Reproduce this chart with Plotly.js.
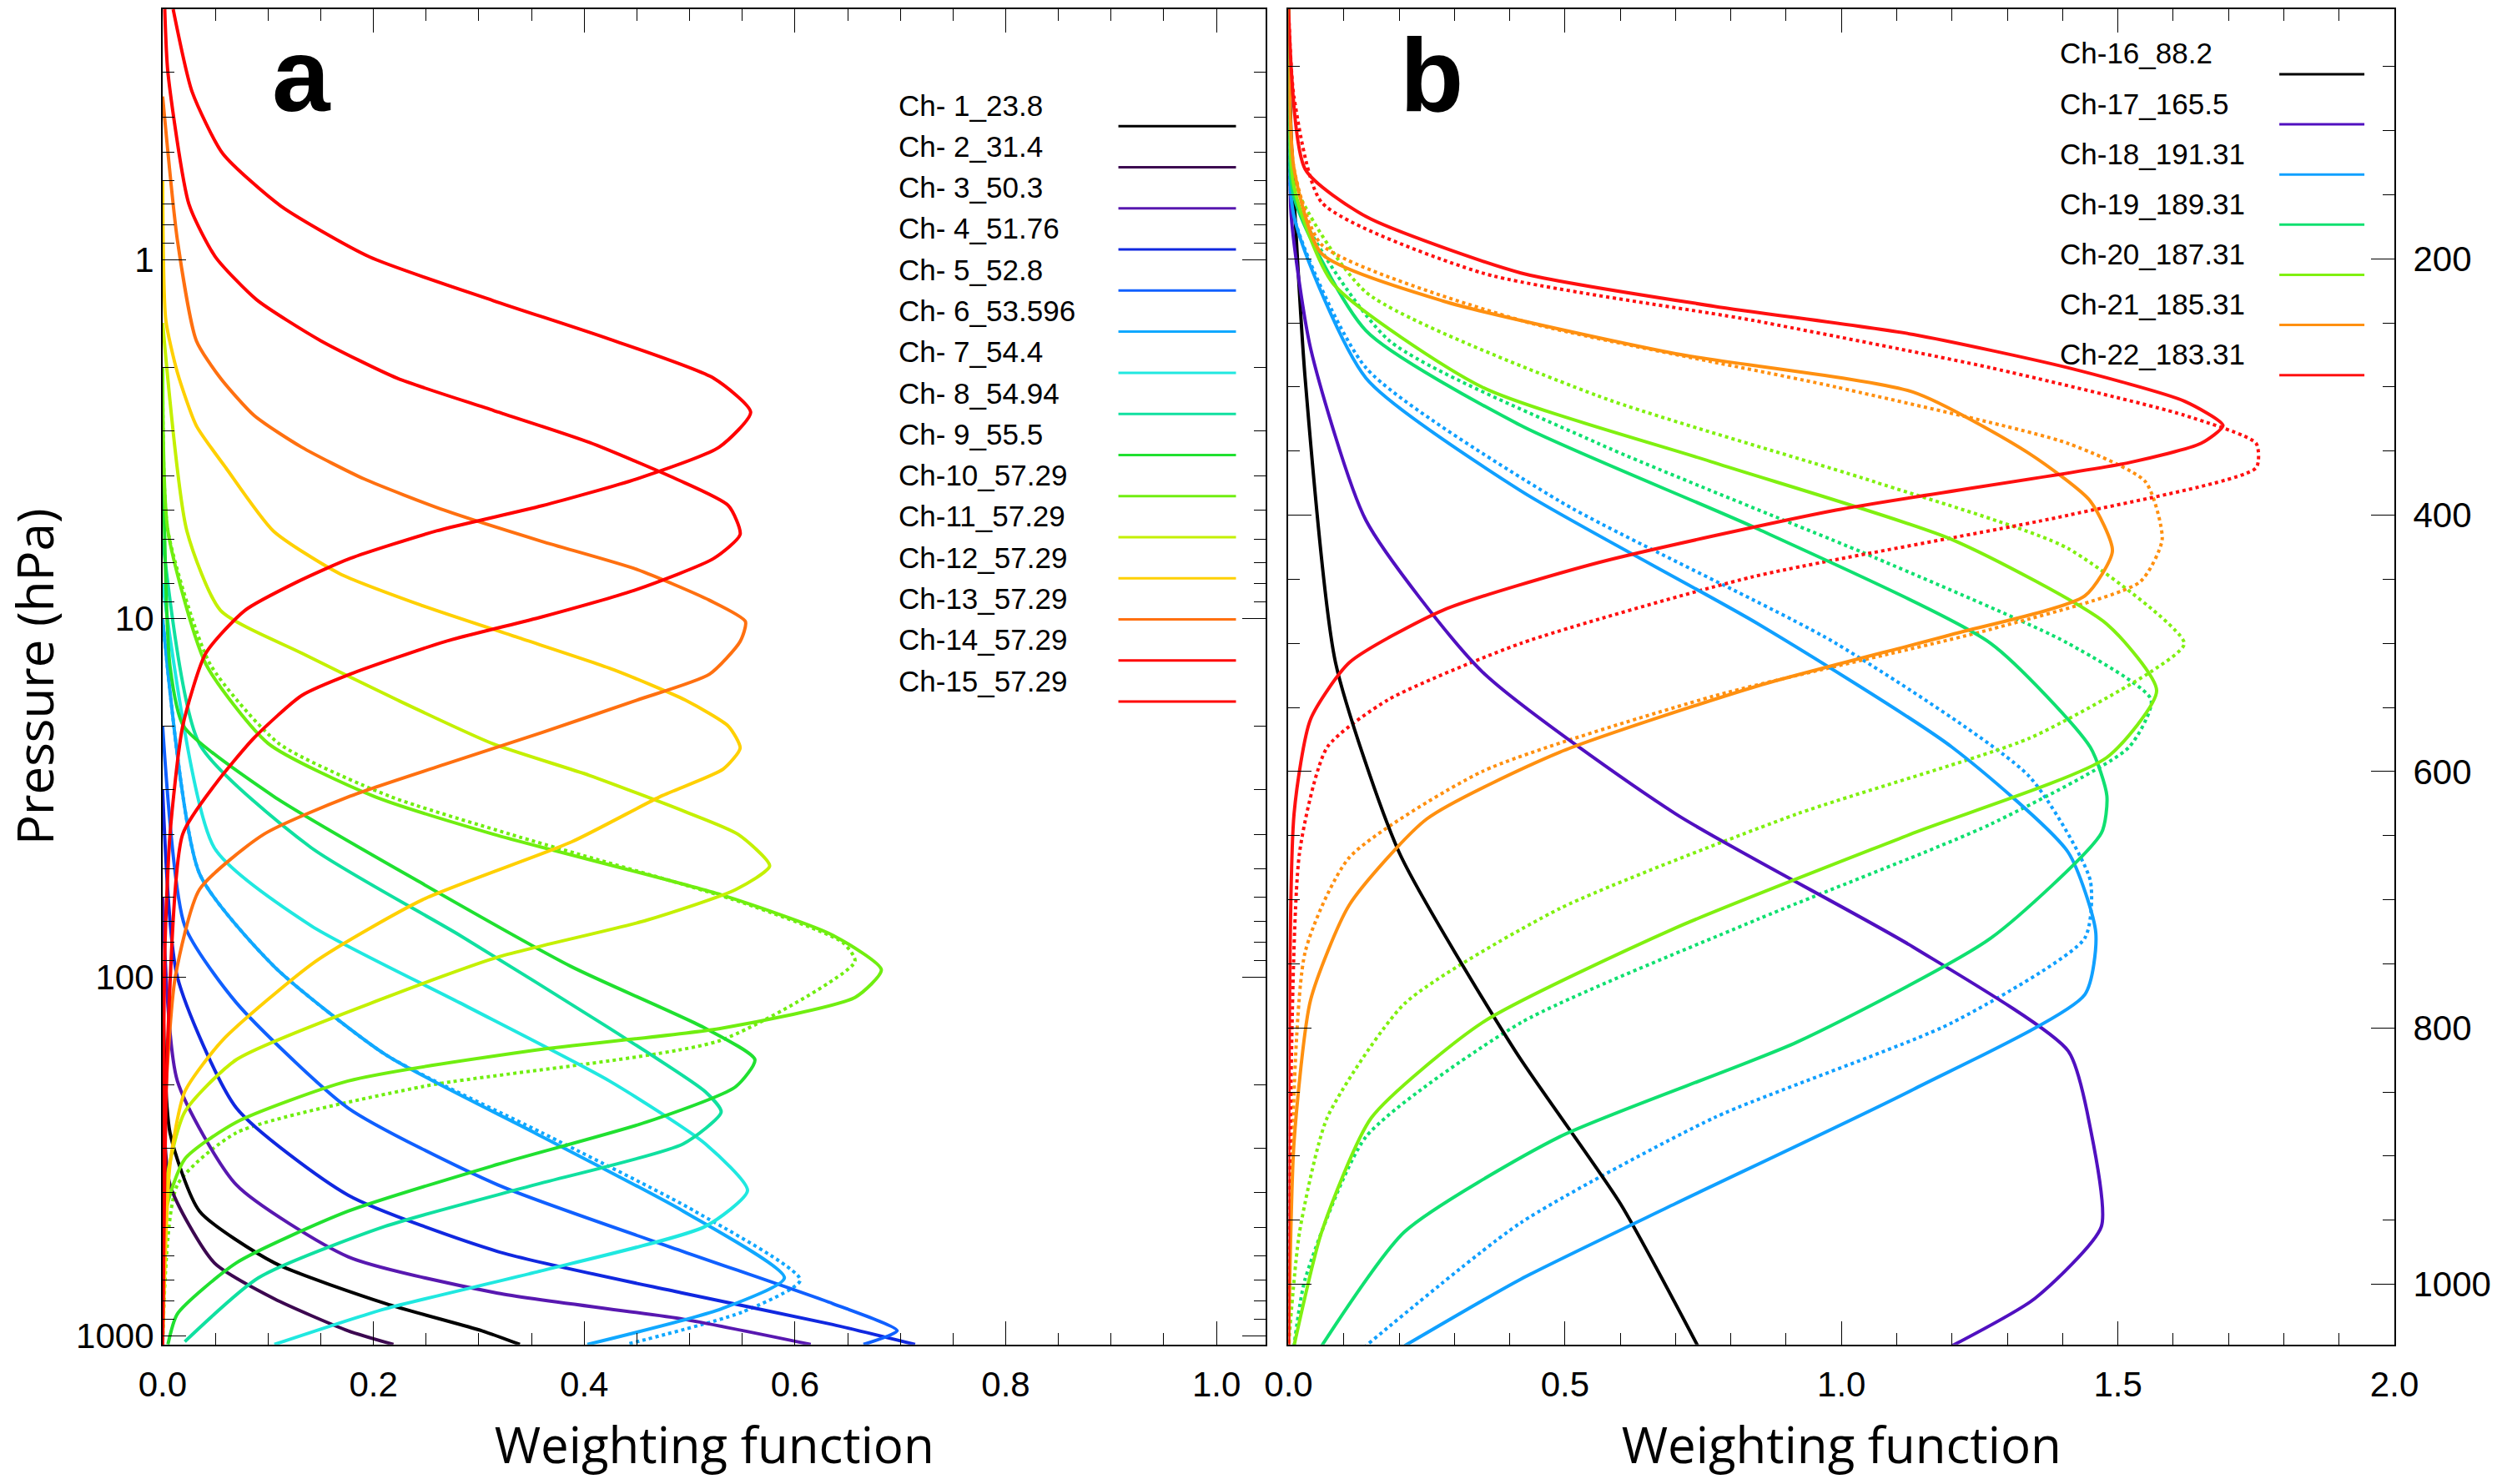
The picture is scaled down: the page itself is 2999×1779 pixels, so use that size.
<!DOCTYPE html>
<html>
<head>
<meta charset="utf-8">
<script src="https://cdn.plot.ly/plotly-3.0.1.min.js"></script>
<style>body{margin:0;background:#fff}#plot{width:2999px;height:1779px}</style>
</head>
<body>
<div id="plot"></div>
<script>
// ---- panel a : temperature channels (log pressure) ----
var namesA = ['Ch- 1_23.8','Ch- 2_31.4','Ch- 3_50.3','Ch- 4_51.76','Ch- 5_52.8','Ch- 6_53.596','Ch- 7_54.4',
  'Ch- 8_54.94','Ch- 9_55.5','Ch-10_57.29','Ch-11_57.29','Ch-12_57.29','Ch-13_57.29','Ch-14_57.29','Ch-15_57.29']
var colorsA = ['#000000','#3c0850','#5818b0','#1028e0','#1060ff','#10a8ff','#20e8e0',
  '#10e0a0','#20e030','#70ee10','#c4f000','#ffd000','#ff7010','#ff0000','#ff0000']

var w1 = [0, .007, .035, .106, .212, .303, .339]
var p1 = [100, 272, 450, 627, 815, 970, 1059]
var w2 = [0, .007, .049, .106, .176, .219]
var p2 = [150, 380, 627, 790, 970, 1059]
var w3 = [0, .014, .07, .176, .318, .494, .615]
var p3 = [60, 195, 380, 603, 762, 900, 1059]
var w4 = [0, .014, .07, .176, .318, .494, .636, .714]
var p4 = [30, 100, 232, 406, 583, 762, 932, 1059]
var w5 = [0, .021, .07, .176, .318, .494, .636, .697, .665]
var p5 = [20, 72, 118, 232, 380, 583, 815, 970, 1059]
var w6 = [0, .035, .106, .212, .353, .494, .59, .53, .403]
var p6 = [10, 51.5, 93.6, 165, 272, 450, 690, 843, 1059]
var w6d = [0, .035, .106, .212, .36, .505, .605, .55, .44]
var p6d = [10, 51.5, 93.6, 165, 272, 450, 700, 860, 1059]
var w7 = [0, .049, .141, .282, .424, .515, .555, .515, .353, .211, .106]
var p7 = [8, 43.6, 72, 118, 195, 292, 394, 496, 667, 843, 1059]
var w8 = [0, .035, .141, .282, .424, .515, .53, .494, .353, .211, .091, .021]
var p8 = [6, 22.4, 43.6, 76.5, 139, 209, 238, 292, 380, 496, 690, 1040]
var w9 = [0, .007, .02, .105, .247, .388, .515, .562, .544, .459, .318, .176, .07, .014, .005]
var p9 = [3, 13.6, 20, 31.3, 55, 93.6, 139, 170, 202, 254, 333, 450, 627, 870, 1059]
var w10 = [0, .005, .041, .1, .2, .314, .53, .636, .682, .657, .53, .353, .176, .07, .021, .003, 0]
var p10 = [2, 5.7, 13.4, 22.3, 31.3, 40, 59, 76.5, 95.5, 114, 139, 160, 195, 254, 322, 450, 1059]
var w10d = [0, .005, .045, .11, .215, .33, .55, .645, .657, .53, .247, .07, .014, 0]
var p10d = [2, 5.7, 13.4, 22.3, 31.3, 40, 62, 80, 90.5, 150, 202, 272, 380, 1059]
var w11 = [0, .023, .055, .132, .223, .314, .405, .496, .546, .576, .544, .459, .318, .212, .07, .021, .003, 0]
var p11 = [1.5, 5.7, 9.5, 12.5, 16.9, 22.4, 27.4, 34.6, 40, 49, 57, 69.5, 88, 114, 170, 238, 380, 1059]
var w12 = [0, .003, .014, .032, .06, .105, .168, .246, .337, .428, .496, .537, .548, .532, .473, .388, .247, .145, .057, .021, .007, 0]
var p12 = [0.6, 1.47, 2.06, 2.9, 3.8, 5.7, 7.5, 9.2, 11.3, 13.9, 16.9, 20, 23, 26.3, 31.3, 42, 60.8, 90.5, 150, 209, 333, 1059]
var w13 = [0, .014, .032, .055, .087, .132, .191, .268, .36, .45, .519, .553, .548, .519, .45, .36, .268, .178, .096, .035, .012, .002, 0]
var p13 = [0.35, .88, 1.68, 2.14, 2.72, 3.33, 4.08, 5.0, 6.1, 7.3, 8.9, 10.2, 11.6, 14.3, 16.9, 20.8, 25.5, 31.3, 40, 57, 100, 240, 1059]
var w14 = [.002, .005, .025, .05, .089, .15, .223, .314, .405, .487, .537, .548, .523, .45, .36, .268, .178, .132, .087, .05, .019, .005, 0]
var p14 = [0.2, .3, .7, .98, 1.29, 1.68, 2.14, 2.63, 3.23, 4.08, 4.85, 5.83, 6.8, 8.3, 9.9, 11.6, 14.3, 16.4, 21.5, 29, 40, 145, 1059]
var w15 = [.01, .028, .057, .112, .196, .314, .423, .523, .558, .528, .45, .36, .26, .178, .128, .078, .041, .019, .007, .002, 0]
var p15 = [0.2, .34, .505, .707, .98, 1.3, 1.66, 2.14, 2.66, 3.33, 4.08, 4.85, 5.7, 6.8, 7.9, 9.5, 12.5, 20, 40, 87, 1059]

var wA = [w1, w2, w3, w4, w5, w6, w7, w8, w9, w10, w11, w12, w13, w14, w15]
var pA = [p1, p2, p3, p4, p5, p6, p7, p8, p9, p10, p11, p12, p13, p14, p15]
// dotted (second model) curves: [channel index, w, p]
var dotsA = [[5, w6d, p6d], [9, w10d, p10d]]

// ---- panel b : humidity channels (linear pressure) ----
var namesB = ['Ch-16_88.2','Ch-17_165.5','Ch-18_191.31','Ch-19_189.31','Ch-20_187.31','Ch-21_185.31','Ch-22_183.31']
var colorsB = ['#000000','#5010c0','#10a0ff','#10e070','#80f010','#ff9010','#ff1010']

var w16 = [0, .005, .03, .085, .2, .41, .6, .74]
var p16 = [5, 107, 293, 515, 663, 818, 937, 1048]
var w17 = [0, .005, .04, .14, .35, .7, 1.13, 1.41, 1.45, 1.47, 1.35, 1.2]
var p17 = [5, 167, 270, 404, 522, 633, 737, 818, 878, 955, 1011, 1048]
var w18 = [0, .01, .14, .42, .85, 1.2, 1.41, 1.46, 1.44, 1.13, .7, .42, .21]
var p18 = [5, 167, 293, 381, 485, 581, 663, 726, 774, 848, 937, 996, 1048]
var w18d = [0, .01, .14, .49, .99, 1.34, 1.45, 1.44, 1.2, .77, .42, .14]
var p18d = [5, 167, 285, 389, 500, 604, 685, 730, 796, 870, 952, 1048]
var w19 = [0, .01, .14, .42, .85, 1.27, 1.45, 1.48, 1.47, 1.27, .92, .49, .21, .06]
var p19 = [5, 152, 256, 330, 411, 500, 581, 619, 648, 730, 811, 885, 959, 1048]
var w19d = [0, .01, .18, .56, 1.06, 1.41, 1.56, 1.52, 1.27, .85, .42, .14, .03, .01]
var p19d = [5, 152, 263, 344, 433, 500, 544, 581, 641, 715, 796, 885, 996, 1048]
var w20 = [0, .01, .08, .35, .77, 1.2, 1.48, 1.57, 1.48, 1.13, .7, .35, .15, .06, .01]
var p20 = [5, 144, 219, 300, 359, 419, 485, 537, 589, 648, 722, 796, 870, 959, 1048]
var w20d = [0, .01, .14, .56, 1.06, 1.41, 1.62, 1.56, 1.34, .92, .49, .21, .07, .02, 0]
var p20d = [5, 140, 226, 307, 374, 426, 500, 522, 574, 633, 707, 781, 870, 959, 1048]
var w21 = [0, .01, .06, .28, .7, 1.13, 1.34, 1.45, 1.49, 1.44, 1.2, .85, .49, .25, .11, .04, .01, 0]
var p21 = [5, 130, 196, 233, 274, 304, 352, 389, 428, 463, 493, 533, 585, 637, 704, 778, 889, 1048]
var w21d = [0, .01, .06, .42, .99, 1.41, 1.55, 1.58, 1.54, 1.27, .77, .35, .11, .03, 0]
var p21d = [5, 130, 189, 248, 300, 344, 374, 419, 452, 489, 541, 600, 667, 741, 1048]
var w22 = [0, .03, .14, .42, .77, 1.13, 1.41, 1.62, 1.69, 1.65, 1.52, .99, .56, .28, .11, .04, .01, 0]
var p22 = [5, 130, 167, 211, 237, 259, 285, 311, 330, 344, 359, 396, 437, 474, 515, 559, 633, 1048]
var w22d = [0, .01, .06, .35, .84, 1.27, 1.62, 1.75, 1.75, 1.41, .84, .42, .18, .07, .02, 0]
var p22d = [5, 74, 156, 211, 248, 285, 322, 344, 363, 400, 448, 500, 544, 581, 663, 1048]

var wB = [w16, w17, w18, w19, w20, w21, w22]
var pB = [p16, p17, p18, p19, p20, p21, p22]
var dotsB = [[2, w18d, p18d], [3, w19d, p19d], [4, w20d, p20d], [5, w21d, p21d], [6, w22d, p22d]]

var traces = []
function addLine(x, y, color, dash, xa, ya) {
  traces.push({x: x, y: y, mode: 'lines', xaxis: xa, yaxis: ya, showlegend: false, hoverinfo: 'skip',
    line: {color: color, width: 4, dash: dash, shape: 'spline', smoothing: 0.6}})
}
dotsA.forEach(d => addLine(d[1], d[2], colorsA[d[0]], 'dot', 'x', 'y'))
wA.forEach((w, i) => addLine(w, pA[i], colorsA[i], 'solid', 'x', 'y'))
dotsB.forEach(d => addLine(d[1], d[2], colorsB[d[0]], 'dot', 'x2', 'y2'))
wB.forEach((w, i) => addLine(w, pB[i], colorsB[i], 'solid', 'x2', 'y2'))

// legends drawn as text + sample line
var annotations = [], shapes = []
var legFont = {family: 'Liberation Sans, Arial', size: 35, color: '#000'}
namesA.forEach((n, i) => {
  var y = 0.915 - i * 0.0277
  annotations.push({xref: 'paper', yref: 'paper', x: 0.3585, y: y + 0.002, text: n, showarrow: false, xanchor: 'left', yanchor: 'bottom', font: legFont})
  shapes.push({type: 'line', xref: 'paper', yref: 'paper', x0: 0.447, x1: 0.494, y0: y, y1: y, line: {color: colorsA[i], width: 3}})
})
namesB.forEach((n, i) => {
  var y = 0.95 - i * 0.0338
  annotations.push({xref: 'paper', yref: 'paper', x: 0.8225, y: y + 0.002, text: n, showarrow: false, xanchor: 'left', yanchor: 'bottom', font: legFont})
  shapes.push({type: 'line', xref: 'paper', yref: 'paper', x0: 0.911, x1: 0.945, y0: y, y1: y, line: {color: colorsB[i], width: 3}})
})
var letterFont = {family: 'Liberation Sans, Arial', size: 125, color: '#000'}
annotations.push({xref: 'paper', yref: 'paper', x: 0.108, y: 0.99, text: '<b>a</b>', showarrow: false, xanchor: 'left', yanchor: 'top', font: letterFont})
annotations.push({xref: 'paper', yref: 'paper', x: 0.559, y: 0.99, text: '<b>b</b>', showarrow: false, xanchor: 'left', yanchor: 'top', font: letterFont})

var tickFont = {family: 'Liberation Sans, Arial', size: 42, color: '#000'}
var titleFont = {family: 'Open Sans, Liberation Sans', size: 60, color: '#000'}
var box = {showline: true, mirror: 'ticks', linecolor: '#000', linewidth: 2, ticks: 'inside', tickcolor: '#000', showgrid: false, zeroline: false, tickfont: tickFont}

var layout = {
  width: 2999, height: 1779, margin: {l: 0, r: 0, t: 0, b: 0},
  paper_bgcolor: '#fff', plot_bgcolor: '#fff',
  xaxis: Object.assign({}, box, {domain: [0.065, 0.506], range: [0, 1.047], tickvals: [0, .2, .4, .6, .8, 1.0], ticktext: ['0.0', '0.2', '0.4', '0.6', '0.8', '1.0'], ticklen: 28,
    minor: {dtick: 0.05, ticks: 'inside', ticklen: 14, tickcolor: '#000'}, ticklabelstandoff: 10,
    title: {text: 'Weighting function', font: titleFont, standoff: 30}}),
  yaxis: Object.assign({}, box, {domain: [0.094, 0.994], type: 'log', range: [3.025, -0.7], tickvals: [1, 10, 100, 1000], ticktext: ['1', '10', '100', '1000'], ticklen: 28,
    minor: {tickvals: [0.2,0.3,0.4,0.5,0.6,0.7,0.8,0.9,2,3,4,5,6,7,8,9,20,30,40,50,60,70,80,90,200,300,400,500,600,700,800,900], ticks: 'inside', ticklen: 14, tickcolor: '#000'},
    title: {text: 'Pressure (hPa)', font: titleFont, standoff: 20}}),
  xaxis2: Object.assign({}, box, {domain: [0.515, 0.957], anchor: 'y2', range: [0, 2.0], dtick: 0.5, tickformat: '.1f', ticklen: 28,
    minor: {dtick: 0.1, ticks: 'inside', ticklen: 14, tickcolor: '#000'}, ticklabelstandoff: 10,
    title: {text: 'Weighting function', font: titleFont, standoff: 30}}),
  yaxis2: Object.assign({}, box, {domain: [0.094, 0.994], anchor: 'x2', side: 'right', range: [1047, 5], tickvals: [200, 400, 600, 800, 1000], ticklen: 28,
    minor: {dtick: 50, ticks: 'inside', ticklen: 14, tickcolor: '#000'}, ticklabelstandoff: 12}),
  annotations: annotations, shapes: shapes
}

Plotly.newPlot(document.getElementById('plot'), traces, layout, {staticPlot: true})
</script>
</body>
</html>
